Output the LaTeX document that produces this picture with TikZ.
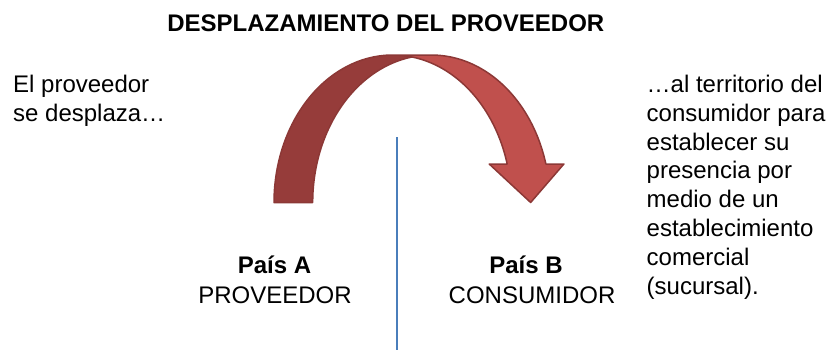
\documentclass[tikz,border=0pt]{standalone}
\usepackage{fontspec}
\setmainfont{Liberation Sans}
\definecolor{arrowlight}{HTML}{C0504D}
\definecolor{arrowdark}{HTML}{963C3A}
\definecolor{arrowline}{HTML}{8C3836}
\definecolor{divider}{HTML}{4A7EBB}
\begin{document}
\begin{tikzpicture}[x=1bp,y=-1bp,
  body/.style={inner sep=0pt, font=\fontsize{24bp}{28.9bp}\selectfont},
  bodybold/.style={inner sep=0pt, font=\bfseries\fontsize{24bp}{28.9bp}\selectfont},
  arrowedge/.style={draw=arrowline, line width=1.5bp, line join=round}]
\useasboundingbox (0,0) rectangle (831,350);
% curved down arrow: two equal ellipses A (centre 392.65) and B (centre 431.35)
\fill[arrowdark] (412,56.98)
  -- plot[domain=260.61:180,samples=60] ({431.35+118.65*cos(\x)},{202.5+147.5*sin(\x)})
  -- (274,202.5)
  -- plot[domain=180:279.39,samples=60] ({392.65+118.65*cos(\x)},{202.5+147.5*sin(\x)})
  -- cycle;
\fill[arrowlight] (530.65,202.5) -- (489.2,164) -- (507.2,164)
  -- plot[domain=344.87:270,samples=60] ({392.65+118.65*cos(\x)},{202.5+147.5*sin(\x)})
  -- (431.35,55)
  -- plot[domain=270:344.87,samples=60] ({431.35+118.65*cos(\x)},{202.5+147.5*sin(\x)})
  -- (563.9,164) -- cycle;
\path[arrowedge] (412,56.98)
  -- plot[domain=260.61:180,samples=60] ({431.35+118.65*cos(\x)},{202.5+147.5*sin(\x)})
  -- (274,202.5)
  -- plot[domain=180:270,samples=60] ({392.65+118.65*cos(\x)},{202.5+147.5*sin(\x)})
  -- (431.35,55)
  -- plot[domain=270:344.87,samples=60] ({431.35+118.65*cos(\x)},{202.5+147.5*sin(\x)})
  -- (563.9,164) -- (530.65,202.5) -- (489.2,164) -- (507.2,164)
  -- plot[domain=344.87:270,samples=60] ({392.65+118.65*cos(\x)},{202.5+147.5*sin(\x)});
% divider
\coordinate (dtop) at (397,137);
\coordinate (dbot) at (397,350);
\draw[divider, line width=1.2bp] (dtop) -- (dbot);
% texts
\node[bodybold, anchor=base] (title) at (385.8,31) {DESPLAZAMIENTO DEL PROVEEDOR};
\node[body, anchor=north west, align=left] (left) at (13,70)
  {\rule{0pt}{22bp}El proveedor\\se desplaza…};
\node[body, anchor=north west, align=left] (right) at (646.5,70)
  {\rule{0pt}{22bp}…al territorio del\\consumidor para\\establecer su\\presencia por\\medio de un\\establecimiento\\comercial\\(sucursal).};
\node[bodybold, anchor=base] (paisA) at (274.5,273) {País A};
\node[body, anchor=base] (provA) at (275,303) {PROVEEDOR};
\node[bodybold, anchor=base] (paisB) at (526,273) {País B};
\node[body, anchor=base] (consB) at (532,303) {CONSUMIDOR};
\end{tikzpicture}
\end{document}
